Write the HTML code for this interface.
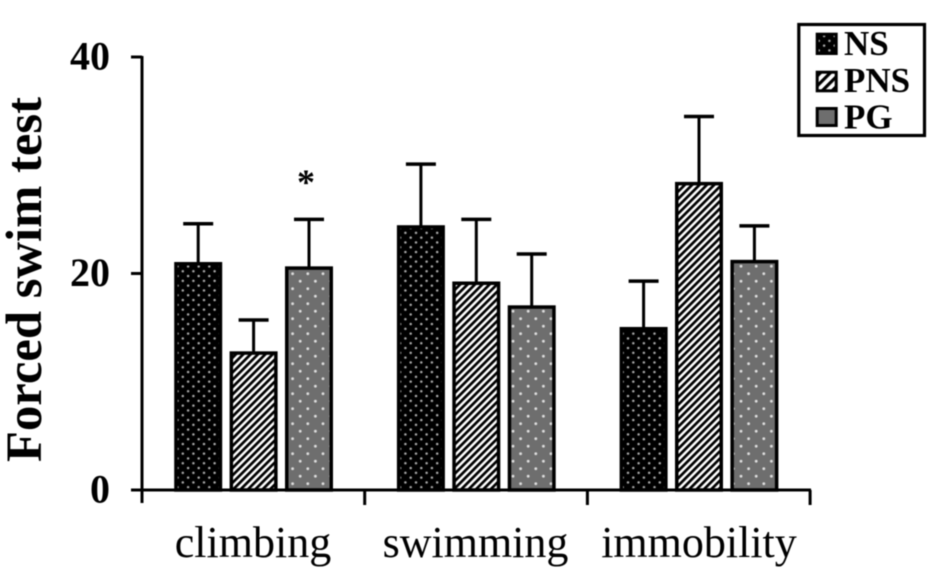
<!DOCTYPE html>
<html lang="en">
<head>
<meta charset="utf-8">
<title>Forced swim test</title>
<style>
html,body{margin:0;padding:0;background:#fff;width:945px;height:577px;overflow:hidden}
svg{display:block;filter:blur(.6px)}
text{font-family:"Liberation Serif",serif;fill:#000}
</style>
</head>
<body>
<svg id="chart" xmlns="http://www.w3.org/2000/svg" width="945" height="577" viewBox="0 0 945 577">
<defs>
<pattern id="p-ns" patternUnits="userSpaceOnUse" width="10.6" height="9.6">
<rect width="10.6" height="9.6" fill="#000"/>
<circle cx="2.6" cy="2.4" r="1.25" fill="#aaa"/>
<circle cx="7.9" cy="7.2" r="1.25" fill="#aaa"/>
</pattern>
<pattern id="p-pns" patternUnits="userSpaceOnUse" width="5.2" height="5.2" patternTransform="rotate(45)">
<rect width="5.2" height="5.2" fill="#fff"/>
<rect x="0" width="2.7" height="5.2" fill="#000"/>
</pattern>
<pattern id="p-pns-legend" patternUnits="userSpaceOnUse" width="7" height="7" patternTransform="rotate(45)">
<rect width="7" height="7" fill="#fff"/>
<rect x="0" width="3.2" height="7" fill="#000"/>
</pattern>
<pattern id="p-pg" patternUnits="userSpaceOnUse" width="15.2" height="15">
<rect width="15.2" height="15" fill="#6e6e6e"/>
<circle cx="3.8" cy="3.7" r="1.4" fill="#ddd"/>
<circle cx="11.4" cy="11.2" r="1.4" fill="#ddd"/>
</pattern>
</defs>
<g id="errors"></g>
<g id="bars"></g>
<g id="axes"></g>
<text transform="translate(41,279.5) rotate(-90)" text-anchor="middle" font-size="50.7" font-weight="bold">Forced swim test</text>
<text x="306" y="194" text-anchor="middle" font-size="36" font-weight="bold">*</text>
<g>
<rect x="798.8" y="24.5" width="125.7" height="111" fill="#fff" stroke="#000" stroke-width="3.2"/>
<g>
<rect x="817.2" y="34.2" width="19" height="19.3" fill="url(#p-ns)" stroke="#000" stroke-width="3"/>
<text x="844" y="55" font-size="35" font-weight="bold">NS</text>
</g>
<g>
<rect x="817.2" y="72.2" width="19" height="18.6" fill="url(#p-pns-legend)" stroke="#000" stroke-width="3"/>
<text x="844" y="92" font-size="35" font-weight="bold">PNS</text>
</g>
<g>
<rect x="817.2" y="108.5" width="19" height="17" fill="#6e6e6e" stroke="#000" stroke-width="3"/>
<text x="844" y="128.5" font-size="35" font-weight="bold">PG</text>
</g>
</g>
</svg>
<script>
var categories = ['climbing', 'swimming', 'immobility'];
var seriesNames = ['NS', 'PNS', 'PG'];
var nsValues = [20.9, 24.3, 14.9];
var pnsValues = [12.65, 19.1, 28.3];
var pgValues = [20.5, 16.9, 21.1];
var nsErrors = [3.7, 5.8, 4.4];
var pnsErrors = [3.05, 5.9, 6.2];
var pgErrors = [4.5, 4.9, 3.3];
var yTicks = [0, 20, 40];

var seriesValues = [nsValues, pnsValues, pgValues];
var seriesErrors = [nsErrors, pnsErrors, pgErrors];
var seriesFills = ['url(#p-ns)', 'url(#p-pns)', 'url(#p-pg)'];
var NS = 'http://www.w3.org/2000/svg';

function yScale(v) { return 490 - v * (433 / 40); }
function groupLeft(i) { return 142 + i * 222.7; }
function barCenter(g, s) { return groupLeft(g) + 56.2 + s * 55.4; }
var BAR_W = 44.5;

function make(tag, attrs, parent) {
  var el = document.createElementNS(NS, tag);
  for (var k in attrs) el.setAttribute(k, attrs[k]);
  parent.appendChild(el);
  return el;
}

var errG = document.getElementById('errors');
var barG = document.getElementById('bars');
var axG = document.getElementById('axes');

categories.forEach(function (cat, g) {
  seriesNames.forEach(function (name, s) {
    var v = seriesValues[s][g];
    var e = seriesErrors[s][g];
    var cx = barCenter(g, s);
    var x = cx - BAR_W / 2;
    var top = yScale(v + e);
    var stem = make('line', { x1: cx, x2: cx, y1: yScale(v), y2: top, stroke: '#000', 'stroke-width': 3 }, errG);
    
    
    var cap = make('line', { x1: cx - 15, x2: cx + 15, y1: top, y2: top, stroke: '#000', 'stroke-width': 3.5 }, errG);
    
    
    var bar = make('rect', { x: x, y: yScale(v), width: BAR_W, height: yScale(0) - yScale(v), fill: seriesFills[s], stroke: '#000', 'stroke-width': 3.5 }, barG);
    
    
  });
});

var yAxis = make('line', { x1: 142, x2: 142, y1: yScale(40) - 1, y2: 503, stroke: '#000', 'stroke-width': 3 }, axG);


var xAxis = make('line', { x1: 131, x2: 811, y1: yScale(0), y2: yScale(0), stroke: '#000', 'stroke-width': 3 }, axG);



yTicks.forEach(function (t) {
  var y = yScale(t);
  var tick = make('line', { x1: 131, x2: 142, y1: y, y2: y, stroke: '#000', 'stroke-width': 3 }, axG);
  
  
  var label = make('text', { x: 110, y: y + 12.5, 'text-anchor': 'end', 'font-size': 40, 'font-weight': 'bold' }, axG);
  
  
  label.textContent = t;
});

for (var i = 1; i <= categories.length; i++) {
  var tk = make('line', { x1: groupLeft(i), x2: groupLeft(i), y1: yScale(0), y2: 505, stroke: '#000', 'stroke-width': 3 }, axG);
  
  
}

var labelCenters = [253, 475.5, 699];
categories.forEach(function (cat, g) {
  var lb = make('text', { x: labelCenters[g], y: 557, 'text-anchor': 'middle', 'font-size': 44 }, axG);
  
  
  lb.textContent = cat;
});
</script>
</body>
</html>
